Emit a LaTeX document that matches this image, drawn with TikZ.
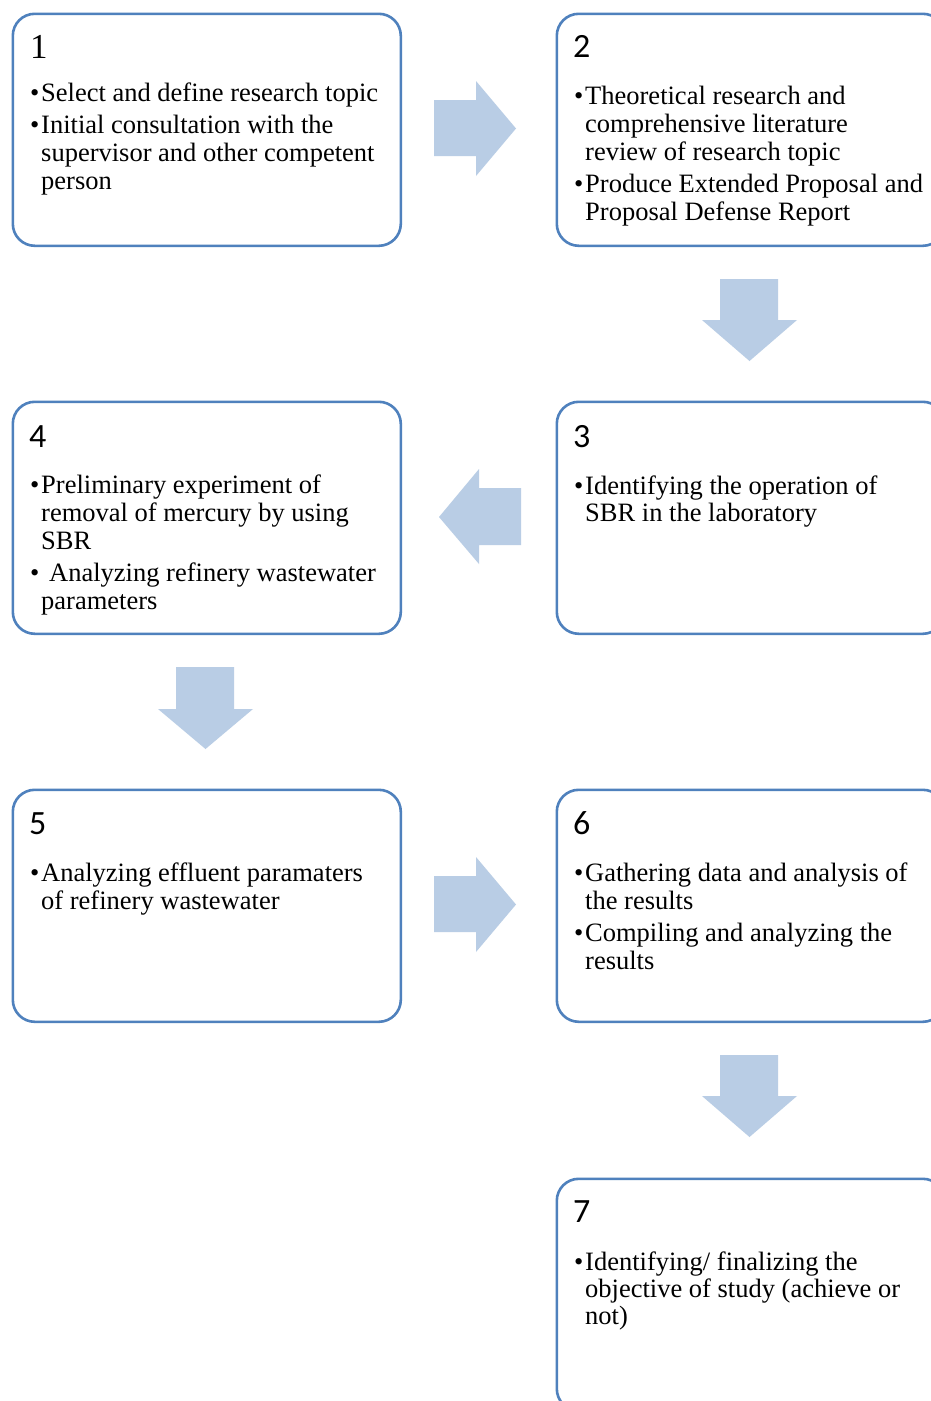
\documentclass[tikz,border=0pt]{standalone}
\usepackage{fontspec}
\setmainfont{Liberation Serif}
\newfontfamily\calib{Carlito}
\newcommand\numfont{\calib\fontsize{34}{34}\selectfont}
\newcommand\numfontserif{\rmfamily\fontsize{35}{35}\selectfont}
\newcommand\txtfont{\rmfamily\fontsize{26.5}{28}\selectfont}
\definecolor{boxblue}{RGB}{79,129,189}
\definecolor{arrowblue}{RGB}{185,205,229}
\tikzset{
  box/.style={draw=boxblue, line width=2.6pt, rounded corners=22pt, minimum width=388pt, minimum height=232pt, anchor=north west, inner sep=0pt, fill=white},
  num/.style={anchor=base west, inner sep=0pt, font=\numfont},
  ln/.style={anchor=base west, inner sep=0pt, font=\txtfont},
  blockarrow/.style={fill=arrowblue, draw=none}
}
\begin{document}
\begin{tikzpicture}[x=1pt,y=-1pt]
\useasboundingbox (0,0) rectangle (931,1401);
\clip (0,0) rectangle (931,1401);
\fill[white] (0,0) rectangle (931,1401);
% boxes
\node[box] (b1) at (11.5,12.5) {};
\node[box] (b2) at (555.5,12.5) {};
\node[box] (b3) at (555.5,400.5) {};
\node[box] (b4) at (11.5,400.5) {};
\node[box] (b5) at (11.5,788.5) {};
\node[box] (b6) at (555.5,788.5) {};
\node[box] (b7) at (555.5,1177.5) {};
% block arrows
\fill[blockarrow] (434,100) -- (476,100) -- (476,81) -- (516,128.5) -- (476,176) -- (476,156) -- (434,156) -- cycle;
\fill[blockarrow] (720,279) -- (778,279) -- (778,320) -- (797,320) -- (749.5,361) -- (702,320) -- (720,320) -- cycle;
\fill[blockarrow] (521,488) -- (479,488) -- (479,469) -- (439,517) -- (479,564) -- (479,545) -- (521,545) -- cycle;
\fill[blockarrow] (176,667) -- (234,667) -- (234,709) -- (253,709) -- (205.5,749) -- (158,709) -- (176,709) -- cycle;
\fill[blockarrow] (434,876) -- (476,876) -- (476,857) -- (516,904.5) -- (476,952) -- (476,932) -- (434,932) -- cycle;
\fill[blockarrow] (720,1055) -- (778,1055) -- (778,1096) -- (797,1096) -- (749.5,1137) -- (702,1096) -- (720,1096) -- cycle;
% box 1
\node[num, font=\numfontserif] (n1) at (30,58) {1};
\node[ln] (p1a) at (30,101) {•};
\node[ln] (t1a) at (41,101) {Select and define research topic};
\node[ln] (p1b) at (30,133) {•};
\node[ln] (t1b) at (41,133) {Initial consultation with the};
\node[ln] (t1c) at (41,161) {supervisor and other competent};
\node[ln] (t1d) at (41,189) {person};
% box 2
\node[num] (n2) at (573,57) {2};
\node[ln] (p2a) at (574,104) {•};
\node[ln] (t2a) at (585,104) {Theoretical research and};
\node[ln] (t2b) at (585,132) {comprehensive literature};
\node[ln] (t2c) at (585,160) {review of research topic};
\node[ln] (p2b) at (574,192) {•};
\node[ln] (t2d) at (585,192) {Produce Extended Proposal and};
\node[ln] (t2e) at (585,220) {Proposal Defense Report};
% box 3
\node[num] (n3) at (573,447) {3};
\node[ln] (p3a) at (574,494) {•};
\node[ln] (t3a) at (585,494) {Identifying the operation of};
\node[ln] (t3b) at (585,521) {SBR in the laboratory};
% box 4
\node[num] (n4) at (29,447) {4};
\node[ln] (p4a) at (30,493) {•};
\node[ln] (t4a) at (41,493) {Preliminary experiment of};
\node[ln] (t4b) at (41,521) {removal of mercury by using};
\node[ln] (t4c) at (41,549) {SBR};
\node[ln] (p4b) at (30,581) {•};
\node[ln] (t4d) at (49,581) {Analyzing refinery wastewater};
\node[ln] (t4e) at (41,609) {parameters};
% box 5
\node[num] (n5) at (29,834) {5};
\node[ln] (p5a) at (30,881) {•};
\node[ln] (t5a) at (41,881) {Analyzing effluent paramaters};
\node[ln] (t5b) at (41,909) {of refinery wastewater};
% box 6
\node[num] (n6) at (573,834) {6};
\node[ln] (p6a) at (574,881) {•};
\node[ln] (t6a) at (585,881) {Gathering data and analysis of};
\node[ln] (t6b) at (585,909) {the results};
\node[ln] (p6b) at (574,941) {•};
\node[ln] (t6c) at (585,941) {Compiling and analyzing the};
\node[ln] (t6d) at (585,969) {results};
% box 7
\node[num] (n7) at (573,1222) {7};
\node[ln] (p7a) at (574,1270) {•};
\node[ln] (t7a) at (585,1270) {Identifying/ finalizing the};
\node[ln] (t7b) at (585,1297) {objective of study (achieve or};
\node[ln] (t7c) at (585,1324) {not)};
\end{tikzpicture}
\end{document}
